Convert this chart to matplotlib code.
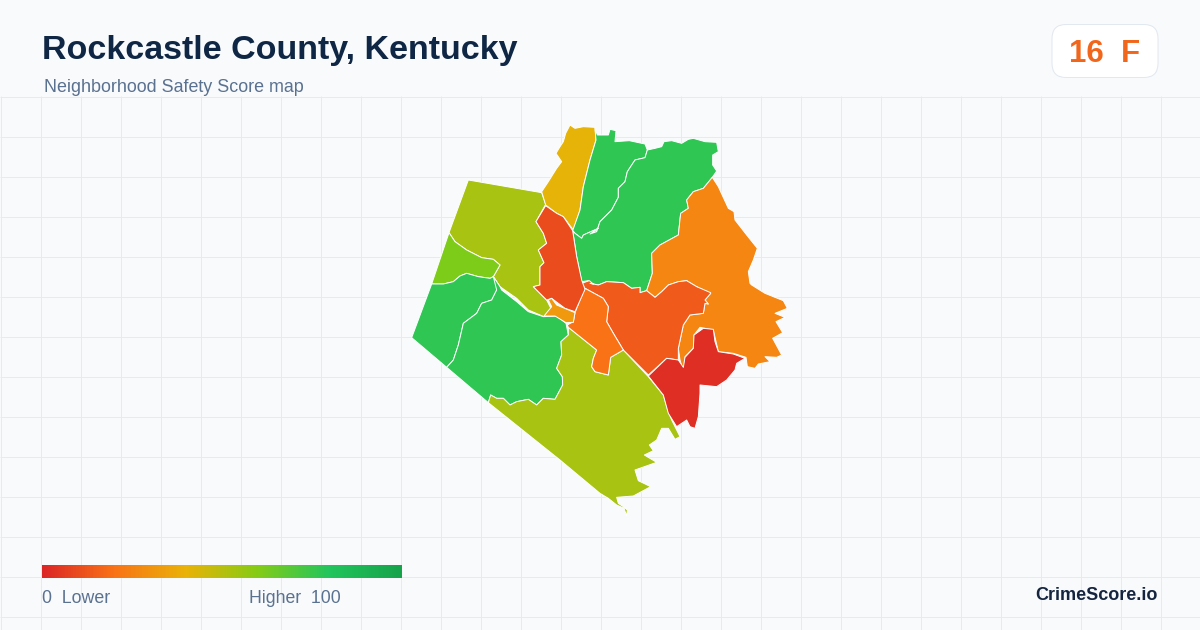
import numpy as np
import matplotlib
matplotlib.use("Agg")
import matplotlib.pyplot as plt
from matplotlib.colors import LinearSegmentedColormap
from matplotlib.patches import Polygon, FancyBboxPatch

plt.rcParams['font.family'] = ['Liberation Sans', 'DejaVu Sans']

TITLE = "Rockcastle County, Kentucky"
SUBTITLE = "Neighborhood Safety Score map"
SCORE_TEXT = "16  F"
BRAND = "CrimeScore.io"
LEGEND_LOW = "0  Lower"
LEGEND_HIGH = "Higher  100"

GRADIENT_STOPS = [0.0, 0.2, 0.4, 0.6, 0.8, 1.0]
GRADIENT_COLORS = ["#dc2626", "#f97316", "#eab308", "#84cc16", "#22c55e", "#16a34a"]

# outlines, in crop-relative units (3x), per view
def view(ox, oy):
    return lambda p: [(ox + x / 3, oy + y / 3) for x, y in p]
z1, z2, z3, z4 = view(400, 110), view(590, 110), view(400, 290), view(560, 280)
a1, a2, a3, a4 = view(590, 120), view(700, 270), view(600, 410), view(540, 270)

north_yellow = z1([(510,45),(525,55),(550,50),(585,52),(588,90),(570,150),(550,230),(540,300),(520,360),
                   (490,320),(470,310),(437,285),(425,245),(445,215),(470,175),(485,155),(468,130),(480,110),(490,95),(497,70)])
nw_olive = z1([(205,210),(425,248),(437,283),(408,335),(430,370),(440,400),(415,420),(432,458),(420,470),(420,525),
               (400,530),(440,570),(455,600),(432,620),(385,600),(350,565),(300,530),(280,500),(300,465),(280,448),
               (245,443),(200,420),(165,395),(147,368)])
light_green = z1([(147,368),(165,395),(200,420),(245,443),(280,448),(300,465),(280,500),(270,505),(235,500),(200,490),
                  (180,498),(160,515),(130,522),(95,522)])
west_green = z1([(95,522),(130,522),(160,515),(180,498),(200,490),(235,500),(270,505),(280,500),(300,530)]) + \
             z3([(290,0),(275,30),(245,40),(230,70),(190,100),(175,165),(160,210),(140,232),(35,143)])
sw_green = z3([(140,232),(265,338),(272,315),(290,325),(310,325),(330,345),(350,335),(385,328),(410,345),(430,325),
               (465,328),(488,285),(487,260),(470,235),(485,195),(483,155),(505,135),(498,100),(470,78),(430,80),
               (385,65),(350,35),(305,0)]) + z1([(300,530),(280,500)]) + \
           z3([(290,0),(275,30),(245,40),(230,70),(190,100),(175,165),(160,210)])
south_olive = z3([(265,338),(272,315),(290,325),(310,325),(330,345),(350,335),(385,328),(410,345),(430,325),(465,328),
                  (488,285),(487,260),(470,235),(485,195),(483,155),(505,135)]) + \
              a4([(85,172),(170,240),(160,265),(155,290),(165,305),(205,315),(212,262),(250,240)]) + \
              z4([(265,290),(310,345)]) + \
              a3([(203,0),(215,30),(240,80),(225,88),(205,55),(185,55),(170,90),(148,105),(160,122),(133,135),(170,157),
                  (105,180),(115,212),(152,230),(100,258),(50,262),(55,280),(70,290),(82,300),(80,318),(72,295),(50,285),
                  (25,265),(0,250)]) + z4([(0,540)])
sliver_orange = a4([(12,138),(35,110),(25,90),(35,85),(50,105),(105,128),(100,157),(78,158),(45,138)])
west_red = z1([(437,287),(470,310),(490,320),(518,362),(530,440),(545,510),(555,538),(525,605),(495,595),(455,565),
               (440,570),(400,530),(420,525),(420,470),(432,458),(415,420),(440,400),(430,370),(408,335)])
center_orange = a4([(135,55),(190,85),(205,110),(200,155),(220,190),(250,240),(212,262),(205,315),(165,305),(155,290),
                    (160,265),(170,240),(85,172),(82,165),(100,155),(105,128),(120,90)])
center_redorange = a4([(125,40),(135,55),(190,85),(205,110),(200,155),(220,190),(250,240)]) + \
                   z4([(265,285),(320,235),(355,240),(355,205),(370,135),(390,105),(430,100),(435,70),(445,72),(435,60),(452,40)]) + \
                   z2([(362,548),(320,530),(290,512),(265,515),(235,525),(215,545),(195,562),(170,542),
                       (150,548),(150,532),(125,535),(100,518),(50,515),(25,525),(0,520)]) + a4([(160,42),(148,32)])
east_orange = a1([(367,172),(385,200)]) + \
              z2([(415,295),(432,305),(435,330),(470,375),(502,415),(490,450),(475,485),(480,520)]) + \
              a2([(155,45),(195,70),(250,92),(262,115),(225,130),(255,142),(228,155),(248,188),(218,205),(245,255),
                  (230,262),(195,260),(210,275),(175,282),(165,295),(142,290),(138,262),(100,250),(55,245),(40,180),(0,172)]) + \
              z4([(402,165),(400,205),(375,230),(372,260),(365,258),(360,240),(355,205),(370,135),(390,105),(430,100),
                  (435,70),(445,72),(435,60),(452,40)]) + \
              z2([(320,530),(290,512),(265,515),(235,525),(215,545),(195,562),(170,542),(187,490),(185,430),(210,405)]) + \
              a1([(265,345),(272,280),(295,265),(290,240),(310,215),(340,205)])
se_red = z4([(265,288),(320,235),(355,240),(370,262),(375,232),(400,205),(402,165),(430,145),(460,148),(465,185),
             (475,215),(520,222),(555,235),(530,250),(525,270),(500,300),(470,320),(420,315),(420,340),(415,410),
             (405,445),(390,440),(380,420),(350,440),(325,400),(310,345)])
north_green = a1([(15,25),(22,45),(55,45),(60,28),(78,32),(75,65),(118,62),(165,72),(172,90),(165,113),(135,120),
                  (112,155),(105,185),(85,205),(85,232),(65,270),(30,305),(20,335),(0,342)]) + \
              z1([(595,355),(550,375),(545,385),(525,370),(518,362),(540,300),(550,230),(570,150),(588,90)])
ne_green = a1([(172,90),(195,85),(215,80),(222,65),(245,62),(275,70),(295,58),(310,55),(345,65),(380,67),(385,95),
               (368,105),(368,135),(380,153),(367,172),(340,205),(310,215),(290,240),(295,265),(272,280),(265,345)]) + \
           z2([(210,405),(185,430),(187,490),(170,542),(150,548),(150,532),(125,535),(100,518),(50,515),(25,525),(0,520)]) + \
           z1([(575,522),(565,512),(545,515),(530,440),(518,362),(525,370),(545,385),(550,375),(595,355)]) + \
           a1([(0,342),(20,335),(30,305),(65,270),(85,232),(85,205),(105,185),(112,155),(135,120),(165,113)])

region_shapes = [nw_olive, light_green, west_green, sw_green, south_olive, north_yellow, north_green, ne_green,
                 east_orange, center_redorange, center_orange, west_red, sliver_orange, se_red]
region_scores = [53, 61, 77, 77, 53, 41, 77, 77, 26, 14, 20, 10, 32, 2]

fig = plt.figure(figsize=(12, 6.3), dpi=100, facecolor="#f8fafc")
ax = fig.add_axes([0, 0, 1, 1])
ax.set_xlim(0, 1200)
ax.set_ylim(630, 0)
ax.axis("off")

cmap = LinearSegmentedColormap.from_list("score", list(zip(GRADIENT_STOPS, GRADIENT_COLORS)))

# background grid
for gx in np.arange(0.5, 1200, 40):
    ax.plot([gx, gx], [96, 630], color="#e3edf1", lw=0.72, zorder=1, solid_capstyle="butt")
for gy in np.arange(96.5, 630, 40):
    ax.plot([0, 1200], [gy, gy], color="#e3edf1", lw=0.72, zorder=1, solid_capstyle="butt")

# regions
for shape, score in zip(region_shapes, region_scores):
    ax.add_patch(Polygon(shape, closed=True, facecolor=cmap(score / 100), edgecolor="#ffffff",
                         lw=0.7, joinstyle="round", zorder=3))

# title
ax.text(42, 51, TITLE, fontsize=24.5, fontweight="bold", color="#0f2744", va="center", ha="left", zorder=5)
ax.text(44, 87, SUBTITLE, fontsize=12.9, color="#5a7190", va="center", ha="left", zorder=5)

# badge
ax.add_patch(FancyBboxPatch((1052 + 14, 24.5 + 14), 106 - 28, 53 - 28, boxstyle="round,pad=14,rounding_size=14",
                            facecolor="#ffffff", edgecolor="#e2e8f0", lw=0.72, zorder=4))
ax.text(1105, 54.5, SCORE_TEXT, fontsize=22.5, fontweight="bold", color="#f2661c", va="center", ha="center", zorder=5)

# legend
grad = np.linspace(0, 100, 360).reshape(1, -1)
ax.imshow(grad, cmap=cmap, vmin=0, vmax=100, extent=(42, 402, 578, 565), aspect="auto", zorder=4, interpolation="bilinear")
ax.set_xlim(0, 1200)
ax.set_ylim(630, 0)
ax.text(42, 598.5, LEGEND_LOW, fontsize=12.8, color="#5a7190", va="center", ha="left", zorder=5)
ax.text(249, 598.5, LEGEND_HIGH, fontsize=12.7, color="#5a7190", va="center", ha="left", zorder=5)
ax.text(1158, 595, BRAND, fontsize=13, fontweight="bold", color="#15253f", va="center", ha="right", zorder=5)

fig.savefig("out.png", dpi=100, facecolor=fig.get_facecolor())
